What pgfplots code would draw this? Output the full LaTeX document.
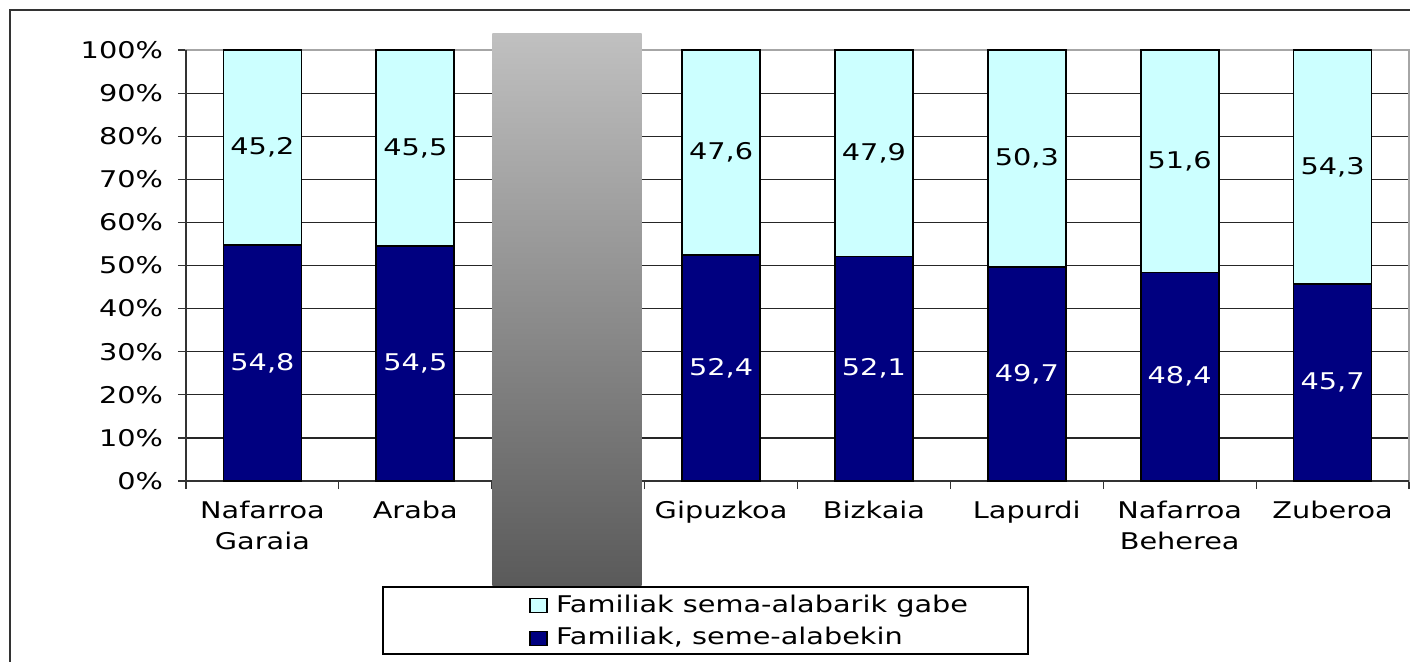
\documentclass[border=0pt]{standalone}
\usepackage{fontspec}
\setmainfont{DejaVu Sans}[FakeStretch=1.25]
\usepackage{pgfplots}
\usepackage{pgfplotstable}
\pgfplotsset{compat=1.18}
\definecolor{navy}{HTML}{000080}
\definecolor{lcyan}{HTML}{CCFFFF}
\definecolor{gtop}{HTML}{C0C0C0}
\definecolor{gbot}{HTML}{5A5A5A}

\pgfplotstableread{
x y
0 54.8
1 54.5
3 52.4
4 52.1
5 49.7
6 48.4
7 45.7
}\withkids
\pgfplotstableread{
x y
0 45.2
1 45.5
3 47.6
4 47.9
5 50.3
6 51.6
7 54.3
}\withoutkids
% label positions (segment centres) and texts
\pgfplotstableread{
x yc lab
0 27.40 54,8
1 27.25 54,5
3 26.20 52,4
4 26.05 52,1
5 24.85 49,7
6 24.20 48,4
7 22.85 45,7
}\darklabels
\pgfplotstableread{
x yc lab
0 77.40 45,2
1 77.25 45,5
3 76.20 47,6
4 76.05 47,9
5 74.85 50,3
6 74.20 51,6
7 72.85 54,3
}\lightlabels

\pgfplotsset{common/.style={
  at={(0pt,0pt)}, anchor=south west,
  scale only axis, width=611.5pt, height=215.5pt,
  xmin=-0.5, xmax=7.5, ymin=0, ymax=100}}

\begin{document}
\begin{tikzpicture}
\useasboundingbox (-93pt,-90pt) rectangle (612pt,240.5pt);
\draw[line width=1pt, black!80] (-88pt,-95pt) -- (-88pt,235.5pt) -- (620pt,235.5pt);
\begin{axis}[
  common,
  ybar stacked, bar width=39pt,
  xtick={-0.5,0.5,...,7.5}, xticklabels={},
  extra x ticks={0,1,2,3,4,5,6,7},
  extra x tick labels={Nafarroa\\Garaia,Araba,{},Gipuzkoa,Bizkaia,Lapurdi,Nafarroa\\Beherea,Zuberoa},
  extra x tick style={major tick length=0pt, grid=none},
  xticklabel style={align=center, font=\fontsize{11.5}{15.5}\selectfont, yshift=-6.5pt},
  ytick={0,10,...,100},
  yticklabel={\pgfmathprintnumber{\tick}\%},
  yticklabel style={font=\fontsize{11.5}{13}\selectfont, xshift=-4pt},
  /pgf/number format/assume math mode=true,
  tick align=outside, xtick pos=bottom, ytick pos=left,
  major tick length=4pt,
  tick style={black!80, line width=0.6pt},
  ymajorgrids, grid style={black!85, line width=0.6pt},
  axis line style={draw=gray!70, line width=0.8pt},
  reverse legend,
  legend image code/.code={\path[draw=none,fill=none] (0pt,0pt) -- (11pt,0pt);
     \draw[#1,draw=black,line width=0.6pt] (0pt,-3.5pt) rectangle (8.5pt,3.5pt);},
  legend style={at={(axis description cs:0.2805,-0.327)}, anchor=west, draw=none, fill=none,
    inner xsep=0pt, inner ysep=0pt, row sep=0pt,
    font=\fontsize{11.5}{13}\selectfont,
    nodes={inner sep=2pt, text height=9.5pt, text depth=2.75pt}},
  legend cell align=left,
  clip=false,
]
\addplot[fill=navy, draw=black, line width=0.9pt] table[x=x,y=y] {\withkids};
\addplot[fill=lcyan, draw=black, line width=0.9pt] table[x=x,y=y] {\withoutkids};
\legend{{Familiak, seme-alabekin},{Familiak sema-alabarik gabe}}
\draw[black!80, line width=0.8pt] (rel axis cs:0,1) -- (rel axis cs:0,0) -- (rel axis cs:1,0);
\coordinate (gA) at (axis cs:1.5036,103.87);
\coordinate (gB) at (axis cs:2.481,-24.13);
\end{axis}
\begin{axis}[common, hide axis, clip=false]
\addplot[draw=none, mark=none, point meta=explicit symbolic,
  nodes near coords, every node near coord/.append style={anchor=center, text=white, font=\fontsize{11.5}{13}\selectfont}]
  table[x=x, y=yc, meta=lab] {\darklabels};
\addplot[draw=none, mark=none, point meta=explicit symbolic,
  nodes near coords, every node near coord/.append style={anchor=center, text=black, font=\fontsize{11.5}{13}\selectfont}]
  table[x=x, y=yc, meta=lab] {\lightlabels};
\end{axis}
\shade[top color=gtop, bottom color=gbot] (gA) rectangle (gB);
\draw[black, line width=0.8pt] (98.5pt,-53pt) rectangle (421pt,-86.5pt);
\end{tikzpicture}
\end{document}
